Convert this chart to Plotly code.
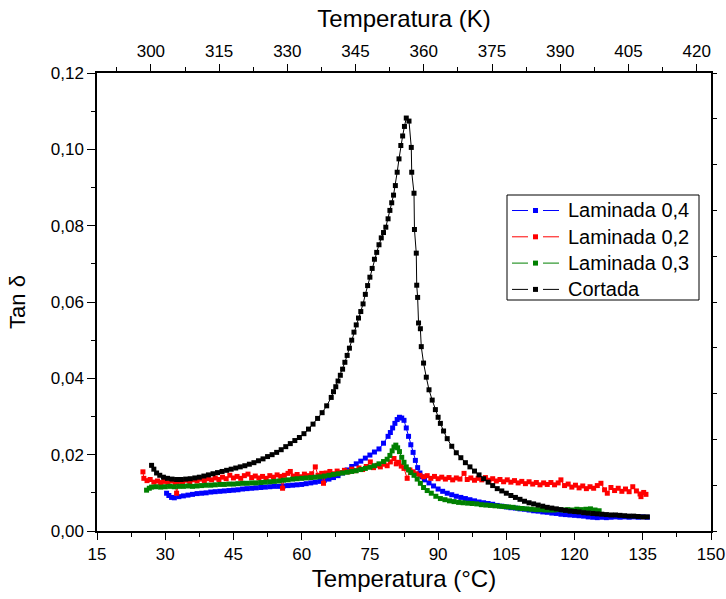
import plotly.graph_objects as go

# Cortada (black)
cort_t = [27.0, 27.5, 28.1, 28.8, 29.6, 30.5, 31.5, 32.5, 33.5, 34.5, 35.5, 36.5, 37.5, 38.5, 39.5,
          40.5, 41.5, 42.5, 43.5, 44.5, 45.5, 46.5, 47.5, 48.5, 49.5, 50.5, 51.5, 52.5, 53.5, 54.5,
          55.5, 56.5, 57.5, 58.5, 59.5, 60.5, 61.5, 62.5, 63.5, 64.5, 65.5, 66.5, 67.0, 67.5, 68.0,
          68.5, 69.0, 69.5, 70.0, 70.5, 71.0, 71.5, 72.0, 72.5, 73.0, 73.5, 74.0, 74.5, 75.0, 75.5,
          76.0, 76.5, 77.0, 77.5, 78.0, 78.5, 79.0, 79.4, 79.8, 80.2, 80.6, 81.0, 81.4, 81.8, 82.2,
          82.6, 83.0, 83.6, 84.1, 84.2, 84.7, 84.8, 85.2, 85.3, 85.5, 85.7, 86.1, 86.3, 86.8, 87.4,
          88.0, 88.7, 89.4, 90.0, 90.5, 91.2, 92.0, 93.0, 94.0, 95.0, 96.0, 97.0, 98.0, 99.0, 100.0,
          101.0, 102.0, 103.0, 104.0, 105.0, 106.0, 107.0, 108.0, 109.0, 110.0, 111.0, 112.0, 113.0,
          114.0, 115.0, 116.0, 117.0, 118.0, 119.0, 120.0, 121.0, 122.0, 123.0, 124.0, 125.0, 126.0,
          127.0, 128.0, 129.0, 130.0, 131.0, 132.0, 133.0, 134.0, 135.0, 136.0]
cort_v = [0.0172, 0.0162, 0.0152, 0.0146, 0.0141, 0.0138, 0.0136, 0.0135, 0.0135, 0.0136, 0.0137,
          0.0139, 0.0141, 0.0144, 0.0147, 0.0150, 0.0153, 0.0156, 0.0159, 0.0162, 0.0165, 0.0168,
          0.0171, 0.0175, 0.0179, 0.0184, 0.0189, 0.0195, 0.0200, 0.0206, 0.0213, 0.0221, 0.0229,
          0.0237, 0.0245, 0.0255, 0.0267, 0.0280, 0.0295, 0.0310, 0.0328, 0.0350, 0.0365, 0.0378,
          0.0393, 0.0408, 0.0424, 0.0442, 0.0460, 0.0479, 0.0500, 0.0521, 0.0540, 0.0558, 0.0575,
          0.0595, 0.0620, 0.0643, 0.0665, 0.0688, 0.0712, 0.0730, 0.0750, 0.0768, 0.0782, 0.0796,
          0.0818, 0.0840, 0.0860, 0.0880, 0.0905, 0.0940, 0.0975, 0.1010, 0.1035, 0.1060, 0.1082,
          0.1074, 0.1005, 0.0940, 0.0885, 0.0790, 0.0728, 0.0644, 0.0612, 0.0545, 0.0530, 0.0483,
          0.0440, 0.0403, 0.0370, 0.0343, 0.0318, 0.0298, 0.0282, 0.0262, 0.0242, 0.0222, 0.0205,
          0.0192, 0.0179, 0.0168, 0.0157, 0.0147, 0.0137, 0.0128, 0.0119, 0.0111, 0.0105, 0.0099,
          0.0093, 0.0088, 0.0083, 0.0078, 0.0074, 0.0071, 0.0068, 0.0065, 0.0062, 0.0060, 0.0058,
          0.0056, 0.0054, 0.0052, 0.0051, 0.0050, 0.0048, 0.0047, 0.0046, 0.0045, 0.0044, 0.0043,
          0.0042, 0.0042, 0.0041, 0.0040, 0.0039, 0.0039, 0.0038, 0.0037, 0.0037]

# Laminada 0,4 (blue)
lam4_t = [30.3, 30.8, 31.4, 32.0, 33.0, 34.0, 35.0, 36.0, 37.0, 38.0, 39.0, 40.0, 41.0, 42.0, 43.0,
          44.0, 45.0, 46.0, 47.0, 48.0, 49.0, 50.0, 51.0, 52.0, 53.0, 54.0, 55.0, 56.0, 57.0, 58.0,
          59.0, 60.0, 61.0, 62.0, 63.0, 64.0, 65.0, 66.0, 67.0, 68.0, 69.0, 70.0, 71.0, 72.0, 73.0,
          74.0, 75.0, 76.0, 77.0, 78.0, 79.0, 79.5, 80.0, 80.5, 81.0, 81.5, 82.0, 82.5, 83.0, 83.5,
          84.0, 84.5, 85.0, 85.5, 86.0, 86.5, 87.0, 88.0, 89.0, 90.0, 91.0, 92.0, 93.0, 94.0, 95.0,
          96.0, 97.0, 98.0, 99.0, 100.0, 101.0, 102.0, 103.0, 104.0, 105.0, 106.0, 107.0, 108.0,
          109.0, 110.0, 111.0, 112.0, 113.0, 114.0, 115.0, 116.0, 117.0, 118.0, 119.0, 120.0, 121.0,
          122.0, 123.0, 124.0, 125.0, 126.0, 127.0, 128.0, 129.0, 130.0, 131.0, 132.0, 133.0, 134.0,
          135.0, 136.0]
lam4_v = [0.0099, 0.0093, 0.0088, 0.0087, 0.0090, 0.0092, 0.0094, 0.0096, 0.0098, 0.0099, 0.0100,
          0.0102, 0.0103, 0.0104, 0.0105, 0.0106, 0.0107, 0.0108, 0.0110, 0.0111, 0.0112, 0.0113,
          0.0114, 0.0115, 0.0116, 0.0117, 0.0117, 0.0118, 0.0119, 0.0120, 0.0121, 0.0122, 0.0124,
          0.0126, 0.0128, 0.0130, 0.0133, 0.0136, 0.0140, 0.0145, 0.0152, 0.0160, 0.0169, 0.0176,
          0.0183, 0.0191, 0.0199, 0.0207, 0.0215, 0.0230, 0.0248, 0.0258, 0.0270, 0.0282, 0.0292,
          0.0298, 0.0296, 0.0290, 0.0270, 0.0248, 0.0226, 0.0206, 0.0185, 0.0166, 0.0152, 0.0142,
          0.0134, 0.0126, 0.0118, 0.0110, 0.0104, 0.0099, 0.0095, 0.0091, 0.0088, 0.0085, 0.0082,
          0.0079, 0.0076, 0.0074, 0.0072, 0.0070, 0.0067, 0.0065, 0.0063, 0.0061, 0.0060, 0.0058,
          0.0057, 0.0055, 0.0053, 0.0052, 0.0050, 0.0049, 0.0047, 0.0046, 0.0044, 0.0043, 0.0042,
          0.0041, 0.0040, 0.0039, 0.0037, 0.0036, 0.0035, 0.0036, 0.0035, 0.0036, 0.0037, 0.0036,
          0.0037, 0.0036, 0.0037, 0.0036, 0.0037, 0.0036]

# Laminada 0,2 (red)
lam2_t = [25.1, 25.3, 26.0, 26.7, 27.5, 28.3, 29.0, 29.8, 30.6, 31.4, 32.2, 32.5, 33.0, 33.8, 34.6,
          35.4, 36.2, 37.0, 37.8, 38.6, 39.4, 40.2, 41.0, 41.8, 42.6, 43.4, 44.2, 45.0, 45.8, 46.6,
          47.4, 48.2, 49.0, 49.8, 50.6, 51.4, 52.2, 53.0, 53.8, 54.6, 55.4, 55.8, 56.2, 57.0, 57.5,
          58.2, 59.0, 59.8, 60.6, 61.4, 62.2, 63.0, 63.6, 64.4, 64.8, 65.4, 66.2, 67.0, 67.8, 68.6,
          69.4, 70.2, 71.0, 71.8, 72.6, 73.4, 74.2, 75.1, 75.8, 76.6, 77.3, 78.1, 78.8, 79.5, 80.3,
          80.8, 81.3, 81.9, 82.5, 83.2, 83.8, 84.5, 85.2, 86.0, 86.8, 87.6, 88.4, 89.2, 90.0, 90.8,
          91.6, 92.4, 93.2, 94.0, 94.8, 95.7, 96.4, 97.2, 98.0, 98.8, 99.6, 100.4, 101.2, 102.0,
          102.8, 103.6, 104.4, 105.2, 106.0, 106.8, 107.6, 108.4, 109.2, 110.0, 110.8, 111.6, 112.4,
          113.2, 114.0, 114.8, 115.6, 116.4, 117.0, 117.8, 118.6, 119.4, 120.2, 121.0, 121.8, 122.6,
          123.4, 124.2, 125.0, 125.8, 126.6, 127.2, 128.0, 128.8, 129.6, 130.4, 131.2, 132.0, 132.8,
          133.6, 134.4, 134.6, 135.2, 135.7]
lam2_v = [0.0155, 0.0138, 0.0132, 0.0135, 0.0128, 0.0131, 0.0127, 0.0130, 0.0126, 0.0131, 0.0127,
          0.0099, 0.0130, 0.0128, 0.0133, 0.0129, 0.0134, 0.0131, 0.0136, 0.0132, 0.0137, 0.0134,
          0.0139, 0.0135, 0.0141, 0.0137, 0.0146, 0.0139, 0.0143, 0.0138, 0.0145, 0.0149, 0.0140,
          0.0144, 0.0139, 0.0143, 0.0138, 0.0145, 0.0141, 0.0147, 0.0143, 0.0112, 0.0146, 0.0151,
          0.0156, 0.0144, 0.0148, 0.0142, 0.0149, 0.0145, 0.0150, 0.0168, 0.0146, 0.0151, 0.0125,
          0.0152, 0.0156, 0.0150, 0.0157, 0.0153, 0.0159, 0.0155, 0.0162, 0.0158, 0.0165, 0.0161,
          0.0169, 0.0181, 0.0166, 0.0172, 0.0168, 0.0175, 0.0171, 0.0181, 0.0190, 0.0176, 0.0180,
          0.0170, 0.0164, 0.0138, 0.0160, 0.0155, 0.0150, 0.0146, 0.0142, 0.0145, 0.0138, 0.0143,
          0.0137, 0.0141, 0.0136, 0.0140, 0.0134, 0.0139, 0.0136, 0.0151, 0.0135, 0.0139, 0.0133,
          0.0138, 0.0134, 0.0140, 0.0133, 0.0137, 0.0131, 0.0135, 0.0129, 0.0134, 0.0128, 0.0132,
          0.0126, 0.0130, 0.0124, 0.0129, 0.0123, 0.0127, 0.0121, 0.0126, 0.0122, 0.0127, 0.0121,
          0.0126, 0.0134, 0.0119, 0.0123, 0.0115, 0.0120, 0.0113, 0.0118, 0.0111, 0.0116, 0.0112,
          0.0119, 0.0125, 0.0108, 0.0099, 0.0114, 0.0106, 0.0112, 0.0104, 0.0110, 0.0103, 0.0116,
          0.0105, 0.0097, 0.0090, 0.0101, 0.0096]

# Laminada 0,3 (green)
lam3_t = [25.9, 26.5, 27.0, 28.0, 29.0, 30.0, 31.0, 32.0, 33.0, 34.0, 35.0, 36.0, 37.0, 38.0, 39.0,
          40.0, 41.0, 42.0, 43.0, 44.0, 45.0, 46.0, 47.0, 48.0, 49.0, 50.0, 51.0, 52.0, 53.0, 54.0,
          55.0, 56.0, 57.0, 58.0, 59.0, 60.0, 61.0, 62.0, 63.0, 64.0, 65.0, 66.0, 67.0, 68.0, 69.0,
          70.0, 71.0, 72.0, 73.0, 74.0, 75.0, 76.0, 77.0, 78.0, 78.8, 79.4, 79.9, 80.3, 80.7, 81.1,
          81.5, 82.0, 82.5, 83.0, 83.5, 84.0, 84.7, 85.4, 86.1, 86.8, 87.6, 88.5, 89.5, 90.5, 91.5,
          92.5, 93.5, 94.5, 95.5, 96.5, 97.5, 98.5, 99.5, 100.5, 101.5, 102.5, 103.5, 104.5, 105.5,
          106.5, 107.5, 108.5, 109.5, 110.5, 111.5, 112.5, 113.5, 114.5, 115.5, 116.5, 117.5, 118.5,
          119.5, 120.5, 121.5, 122.5, 123.5, 124.5, 125.4]
lam3_v = [0.0107, 0.0112, 0.0115, 0.0116, 0.0115, 0.0116, 0.0117, 0.0116, 0.0117, 0.0117, 0.0118,
          0.0117, 0.0118, 0.0119, 0.0120, 0.0120, 0.0121, 0.0122, 0.0122, 0.0123, 0.0123, 0.0124,
          0.0125, 0.0125, 0.0126, 0.0126, 0.0127, 0.0128, 0.0129, 0.0130, 0.0131, 0.0133, 0.0134,
          0.0136, 0.0137, 0.0138, 0.0139, 0.0140, 0.0141, 0.0142, 0.0144, 0.0146, 0.0148, 0.0150,
          0.0152, 0.0154, 0.0156, 0.0158, 0.0161, 0.0164, 0.0167, 0.0171, 0.0176, 0.0182, 0.0188,
          0.0198, 0.0210, 0.0220, 0.0225, 0.0218, 0.0208, 0.0193, 0.0180, 0.0168, 0.0160, 0.0153,
          0.0146, 0.0136, 0.0125, 0.0114, 0.0106, 0.0099, 0.0091, 0.0085, 0.0082, 0.0079, 0.0077,
          0.0075, 0.0074, 0.0073, 0.0072, 0.0071, 0.0069, 0.0068, 0.0067, 0.0066, 0.0065, 0.0064,
          0.0063, 0.0062, 0.0060, 0.0059, 0.0058, 0.0057, 0.0056, 0.0056, 0.0055, 0.0055, 0.0055,
          0.0056, 0.0055, 0.0056, 0.0055, 0.0057, 0.0056, 0.0057, 0.0058, 0.0055, 0.0053]

series = [
    ("Laminada 0,4", lam4_t, lam4_v, "#0000FF"),
    ("Laminada 0,2", lam2_t, lam2_v, "#FF0000"),
    ("Laminada 0,3", lam3_t, lam3_v, "#008000"),
    ("Cortada", cort_t, cort_v, "#000000"),
]

FONT = "Liberation Sans, Arial, sans-serif"

W, H = 726, 599
ML, MR, MT, MB = 97, 15, 73, 68
PW, PH = W - ML - MR, H - MT - MB


def px(x, y):
    # pixel position inside the plot frame -> paper coords
    return x / PW, 1 - y / PH


fig = go.Figure()
for name, t, v, col in series:
    fig.add_trace(go.Scatter(x=t, y=v, name=name, mode="lines+markers", showlegend=False,
                             line=dict(color=col, width=1),
                             marker=dict(symbol="square", size=5, color=col, line=dict(width=0))))

# empty traces so the secondary axes (K on top, mirrored right) get drawn
fig.add_trace(go.Scatter(x=[], y=[], xaxis="x2", showlegend=False, hoverinfo="skip"))
fig.add_trace(go.Scatter(x=[], y=[], yaxis="y2", showlegend=False, hoverinfo="skip"))

# Origin-style legend box: line - square - line, then the label
shapes, annos = [], []
bx0, by0 = px(410, 122)
bx1, by1 = px(602, 227)
shapes.append(dict(type="rect", xref="paper", yref="paper", x0=bx0, y0=by1, x1=bx1, y1=by0,
                   line=dict(color="black", width=1), fillcolor="white", layer="above"))
for i, (name, _, _, col) in enumerate(series):
    cy = 137.5 + i * 26.3
    for a, b in ((415, 431), (446, 462)):
        xa, ya = px(a, cy)
        xb, _ = px(b, cy)
        shapes.append(dict(type="line", xref="paper", yref="paper", x0=xa, x1=xb, y0=ya, y1=ya,
                           line=dict(color=col, width=1), layer="above"))
    sx0, sy0 = px(436, cy - 2.5)
    sx1, sy1 = px(441, cy + 2.5)
    shapes.append(dict(type="rect", xref="paper", yref="paper", x0=sx0, x1=sx1, y0=sy1, y1=sy0,
                       line=dict(width=0), fillcolor=col, layer="above"))
    tx, ty = px(469, cy)
    annos.append(dict(text=name, xref="paper", yref="paper", x=tx, y=ty, xanchor="left",
                      yanchor="middle", showarrow=False,
                      font=dict(family=FONT, size=20, color="black")))

axis_common = dict(showgrid=False, zeroline=False, showline=True, linecolor="black", linewidth=1.5,
                   ticks="outside", tickcolor="black", tickwidth=1.2, automargin=False,
                   tickfont=dict(family=FONT, size=17, color="black"))
minor = dict(ticklen=4, ticks="outside", tickcolor="black", tickwidth=1.2)

fig.update_layout(
    width=W, height=H,
    margin=dict(l=ML, r=MR, t=MT, b=MB),
    paper_bgcolor="white", plot_bgcolor="white",
    separators=",.",
    font=dict(family=FONT, color="black"),
    xaxis=dict(range=[15, 150], tick0=15, dtick=15, ticklen=7, minor=dict(dtick=7.5, **minor),
               title=dict(text="Temperatura (°C)", font=dict(size=24), standoff=7),
               **axis_common),
    xaxis2=dict(overlaying="x", side="top", range=[288.15, 423.15], tick0=300, dtick=15, ticklen=7,
                minor=dict(dtick=7.5, **minor),
                title=dict(text="Temperatura (K)", font=dict(size=24), standoff=8),
                **axis_common),
    yaxis=dict(range=[0, 0.12], dtick=0.02, tickformat=".2f", ticklen=8,
               minor=dict(dtick=0.01, **minor),
               title=dict(text="Tan δ", font=dict(size=22), standoff=19),
               **axis_common),
    yaxis2=dict(overlaying="y", side="right", range=[0, 0.12], dtick=0.012, ticklen=4,
                showticklabels=False, showgrid=False, zeroline=False, showline=True, automargin=False,
                linecolor="black", linewidth=1.5, ticks="outside", tickcolor="black"),
    shapes=shapes,
    annotations=annos,
    showlegend=False,
)

# drop the default body margin so the figure sits at the window's top-left corner
fig.write_html("out.html", config={"displayModeBar": False},
               post_script="document.body.style.margin='0';"
                           "document.documentElement.style.overflow='hidden';")
